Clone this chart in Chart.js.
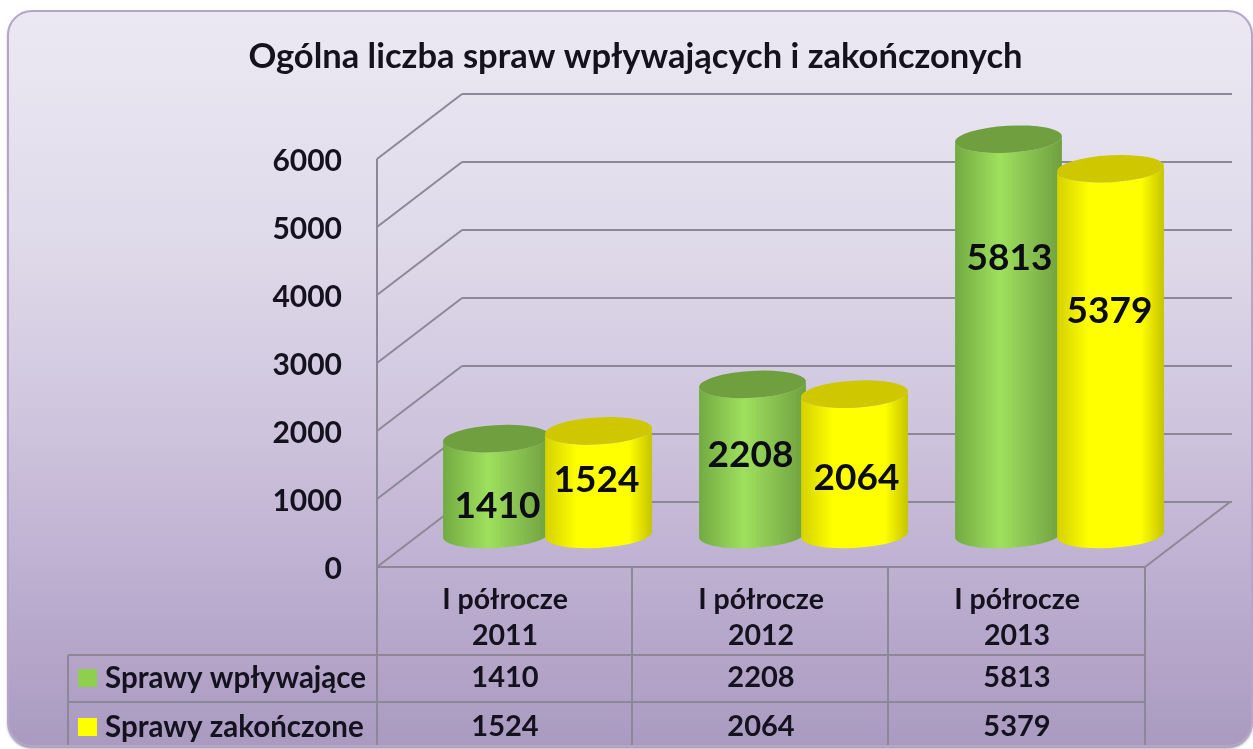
<!DOCTYPE html>
<html><head><meta charset="utf-8">
<style>html,body{margin:0;padding:0;background:#fff;overflow:hidden}#wrap{width:1253px;height:749px}canvas{filter:blur(.45px)}</style>
<script src="https://cdn.jsdelivr.net/npm/chart.js@4"></script>
</head><body><div id="wrap"><canvas id="c" width="1253" height="749"></canvas></div>
<script>
const TITLE = 'Ogólna liczba spraw wpływających i zakończonych';
const categories = [['I półrocze','2011'],['I półrocze','2012'],['I półrocze','2013']];
const seriesNames = ['Sprawy wpływające','Sprawy zakończone'];
const incoming = [1410,2208,5813];
const completed = [1524,2064,5379];
const yTicks = [0,1000,2000,3000,4000,5000,6000];

const FONT = 'Lato, "Open Sans", sans-serif';
const GRID = '#8d8898';
const DEPTH = {x:85,y:-65};
const SHAPE = {
  0:{stops:[[0,'#72aa42'],[.42,'#9fe05e'],[1,'#6fa040']],cap:'#6f9f3e',key:'#8fcf50'},
  1:{stops:[[0,'#d4d200'],[.3,'#ffff00'],[.78,'#ffff00'],[1,'#c6c400']],cap:'#cfc800',key:'#ffff00'}
};
const labelNudge = {
  0:[[1,20],[-2,-4],[1,-79]],
  1:[[-2,-3],[2,14],[-1,-41]]
};

function line(ctx,x1,y1,x2,y2){ctx.beginPath();ctx.moveTo(x1,y1);ctx.lineTo(x2,y2);ctx.stroke();}

const scene = {
  id:'scene',
  beforeDraw(chart){
    const ctx=chart.ctx;
    ctx.save();
    const g=ctx.createLinearGradient(0,10,0,746);
    g.addColorStop(0,'#ece8f3');g.addColorStop(.3,'#e0dbea');g.addColorStop(.55,'#cfc6de');g.addColorStop(.75,'#bfb1d2');g.addColorStop(1,'#aa9ac0');
    ctx.beginPath();ctx.roundRect(8,11,1244,735,24);
    ctx.fillStyle=g;ctx.shadowColor='rgba(90,80,105,.8)';ctx.shadowBlur=3;ctx.shadowOffsetY=2;ctx.fill();
    ctx.shadowColor='transparent';ctx.strokeStyle='#b5a6c9';ctx.lineWidth=2;ctx.stroke();
    ctx.restore();
  },
  beforeDatasetsDraw(chart){
    const ctx=chart.ctx,{left,right,bottom}=chart.chartArea,y=chart.scales.y,x=chart.scales.x;
    ctx.save();
    ctx.strokeStyle=GRID;ctx.lineWidth=2;
    const backRight=right+DEPTH.x+2;
    yTicks.forEach(v=>{
      const py=y.getPixelForValue(v);
      line(ctx,left,py,left+DEPTH.x,py+DEPTH.y);
      line(ctx,left+DEPTH.x,py+DEPTH.y,backRight,py+DEPTH.y);
    });
    line(ctx,right,bottom,right+DEPTH.x,bottom+DEPTH.y);
    line(ctx,left,y.getPixelForValue(6000),left,745);
    // data table
    const cols=[left,(x.getPixelForValue(0)+x.getPixelForValue(1))/2-1,(x.getPixelForValue(1)+x.getPixelForValue(2))/2-1,right];
    const rows=[655,702];
    line(ctx,left,bottom,right,bottom);
    cols.slice(1).forEach(c=>line(ctx,c,bottom,c,745));
    line(ctx,68,rows[0],right,rows[0]);line(ctx,68,rows[1],right,rows[1]);line(ctx,68,rows[0],68,745);
    const rowMid=[678,727];
    ctx.textBaseline='middle';
    [incoming,completed].forEach((vals,r)=>{
      ctx.fillStyle=SHAPE[r].key;ctx.fillRect(78,rowMid[r]-9,19,18);
      ctx.fillStyle='#14121e';ctx.textAlign='left';ctx.font='bold 29.5px '+FONT;
      ctx.fillText(seriesNames[r],105,rowMid[r]);
      ctx.textAlign='center';ctx.font='bold 29px '+FONT;
      vals.forEach((v,i)=>ctx.fillText(String(v),x.getPixelForValue(i),rowMid[r]));
    });
    // cylinders
    const dx=DEPTH.x/2,dy=DEPTH.y/2,base=y.getPixelForValue(0)+dy,tilt=-3.2*Math.PI/180;
    const metas=[chart.getDatasetMeta(0),chart.getDatasetMeta(1)];
    categories.forEach((_,i)=>metas.forEach((m,d)=>{
      const el=m.data[i],s=SHAPE[d],cx=el.x+dx,rx=el.width/2+2.5,ry=13.5,top=el.y+dy;
      const ex=rx*Math.cos(tilt),ey=rx*Math.sin(tilt);
      const gr=ctx.createLinearGradient(cx-rx,0,cx+rx,0);
      s.stops.forEach(([o,c])=>gr.addColorStop(o,c));
      ctx.beginPath();
      ctx.moveTo(cx-ex,top-ey);ctx.lineTo(cx-ex,base-ey);
      ctx.ellipse(cx,base,rx,ry,tilt,Math.PI,0,true);
      ctx.lineTo(cx+ex,top+ey);
      ctx.ellipse(cx,top,rx,ry,tilt,0,Math.PI,false);
      ctx.closePath();ctx.fillStyle=gr;ctx.fill();
      ctx.beginPath();ctx.ellipse(cx,top,rx,ry,tilt,0,Math.PI*2);ctx.fillStyle=s.cap;ctx.fill();
    }));
    // value labels
    ctx.fillStyle='#0c0c14';ctx.textAlign='center';ctx.font='bold 37px '+FONT;
    metas.forEach((m,d)=>m.data.forEach((el,i)=>{
      const mid=(el.y+dy+base)/2,[nx,ny]=labelNudge[d][i];
      ctx.fillText(String(chart.data.datasets[d].data[i]),el.x+dx+nx,mid+ny);
    }));
    ctx.restore();
  },
  beforeDatasetDraw(){return false;}
};

new Chart(document.getElementById('c'),{
  type:'bar',
  data:{labels:categories,datasets:[
    {label:seriesNames[0],data:incoming,backgroundColor:SHAPE[0].key},
    {label:seriesNames[1],data:completed,backgroundColor:SHAPE[1].key}
  ]},
  options:{
    responsive:false,animation:false,
    layout:{padding:{left:126,right:108,top:0,bottom:0}},
    datasets:{bar:{categoryPercentage:.797,barPercentage:1}},
    plugins:{
      legend:{display:false},tooltip:{enabled:false},
      title:{display:true,text:TITLE,color:'#14121e',font:{family:FONT,size:34.5,weight:'bold',lineHeight:1},padding:{top:40,bottom:84.5}}
    },
    scales:{
      x:{
        grid:{display:false},border:{display:false},
        ticks:{color:'#14121e',font:{family:FONT,size:28.5,weight:'bold',lineHeight:1.27},padding:7,maxRotation:0,autoSkip:false},
        afterFit(s){s.height=182;}
      },
      y:{
        min:0,max:6000,
        grid:{display:false},border:{display:false},
        ticks:{stepSize:1000,color:'#14121e',font:{family:FONT,size:30,weight:'bold'},padding:27,callback:v=>String(v)},
        afterFit(s){s.width=251;},
        afterUpdate(s){
          if(s._nudged)return;
          s._nudged=true;
          const draw=s.drawLabels;
          s.drawLabels=function(area){const c=this.ctx;c.save();c.translate(0,2.5);draw.call(this,area);c.restore();};
        }
      }
    }
  },
  plugins:[scene]
});
</script></body></html>
